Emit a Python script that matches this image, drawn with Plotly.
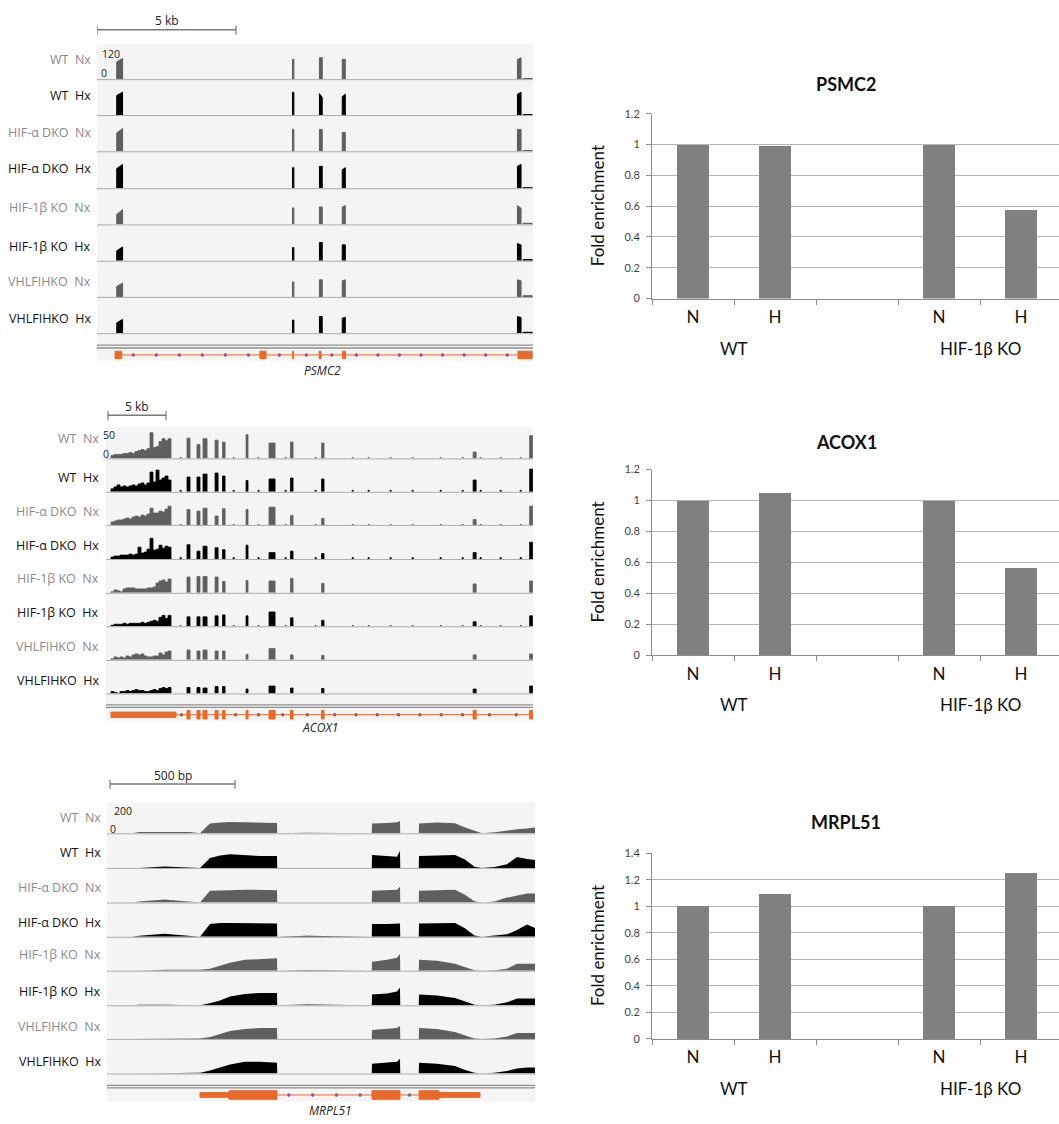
import plotly.graph_objects as go

W, H = 1059, 1124

# ------------------------------------------------------------------ data
TRACK_LABELS = ["WT  Nx", "WT  Hx", "HIF-α DKO  Nx", "HIF-α DKO  Hx",
                "HIF-1β KO  Nx", "HIF-1β KO  Hx", "VHLFIHKO  Nx", "VHLFIHKO  Hx"]

# PSMC2 RNA-seq coverage (positions in kb, heights in reads)
PSMC2_EXON_START = [0.71, 7.03, 8.00, 8.82, 15.12, 15.32]
PSMC2_EXON_END = [0.92, 7.08, 8.10, 8.93, 15.25, 15.65]
PSMC2_COV_LEFT = [
    [75, 86, 93, 86, 85, 3],
    [85, 99, 93, 80, 90, 2],
    [80, 95, 95, 82, 95, 3],
    [85, 89, 95, 80, 95, 2],
    [43, 72, 76, 75, 82, 5],
    [43, 57, 79, 69, 75, 5],
    [45, 65, 74, 70, 74, 5],
    [45, 57, 72, 65, 72, 4],
]
PSMC2_COV_RIGHT = [
    [90, 86, 93, 86, 93, 3],
    [99, 99, 76, 90, 99, 2],
    [99, 95, 95, 82, 95, 3],
    [103, 89, 95, 89, 103, 2],
    [65, 72, 76, 82, 70, 5],
    [60, 57, 79, 69, 68, 5],
    [60, 65, 74, 74, 70, 5],
    [60, 57, 72, 69, 68, 4],
]
PSMC2_GENE_SPAN = [0.65, 15.65]
PSMC2_GENE_EXON_START = [0.65, 5.86, 7.03, 7.99, 8.83, 15.14]
PSMC2_GENE_EXON_END = [0.89, 6.08, 7.07, 8.06, 8.94, 15.65]

# ACOX1 coverage (kb, reads)
ACOX1_UTR_START = 0.43
ACOX1_BIN_KB = 0.2586
ACOX1_UTR_COV = [
    [6, 8, 8, 8, 10, 10, 12, 10, 14, 16, 18, 16, 20, 52, 22, 24, 34, 40, 36, 40],
    [6, 10, 14, 10, 12, 10, 12, 14, 12, 16, 18, 14, 18, 40, 20, 44, 24, 28, 32, 24],
    [6, 8, 10, 10, 12, 14, 12, 16, 18, 16, 20, 18, 22, 34, 24, 24, 28, 26, 32, 38],
    [4, 6, 6, 8, 8, 8, 10, 8, 10, 24, 12, 14, 20, 42, 18, 20, 28, 22, 26, 24],
    [2, 6, 4, 2, 8, 10, 10, 10, 8, 8, 8, 8, 10, 10, 12, 20, 24, 26, 22, 28],
    [2, 4, 4, 4, 6, 4, 6, 6, 6, 6, 8, 6, 8, 10, 12, 10, 18, 22, 16, 22],
    [2, 6, 4, 6, 4, 8, 6, 10, 12, 10, 12, 8, 6, 6, 8, 8, 14, 10, 16, 18],
    [4, 2, 0, 4, 4, 6, 4, 6, 8, 6, 6, 4, 4, 6, 8, 6, 10, 12, 10, 12],
]
ACOX1_EXON_START = [6.98, 7.84, 8.36, 9.40, 10.04, 12.07, 14.05, 15.90, 18.58, 31.64, 36.51]
ACOX1_EXON_END = [7.24, 8.10, 8.71, 9.66, 10.26, 12.24, 14.57, 16.12, 18.79, 31.90, 36.77]
ACOX1_EXON_COV = [
    [41, 28, 40, 37, 33, 48, 31, 33, 31, 13, 46],
    [30, 30, 36, 38, 32, 23, 26, 28, 26, 24, 46],
    [31, 28, 34, 18, 33, 31, 36, 19, 13, 11, 38],
    [29, 16, 26, 23, 19, 28, 13, 16, 11, 13, 34],
    [32, 33, 33, 32, 23, 25, 24, 29, 19, 18, 24],
    [19, 19, 19, 21, 23, 21, 29, 17, 12, 9, 21],
    [20, 18, 20, 18, 18, 11, 23, 10, 9, 10, 12],
    [12, 12, 11, 14, 14, 9, 15, 11, 10, 9, 15],
]
ACOX1_LOW_POS = [6.38, 10.95, 13.10, 15.43, 18.02, 21.21, 22.58, 24.48, 26.38,
                 28.79, 30.69, 32.24, 33.96, 35.69]
ACOX1_LOW_COV = [2, 3, 1, 3, 0, 1, 0, 0]
ACOX1_GENE_SPAN = [0.43, 36.8]
ACOX1_GENE_UTR = [0.43, 6.03]

# MRPL51 coverage (bp, reads)
MRPL51_POS = [100, 130, 230, 330, 372, 412, 452, 492, 552, 612, 680, 681, 750, 800,
              1059, 1060, 1120, 1160, 1172, 1173, 1247, 1248, 1320, 1392, 1430, 1470,
              1500, 1550, 1600, 1640, 1680, 1712]
MRPL51_COV = [
    [0, 10, 10, 10, 0, 80, 88, 92, 90, 88, 84, 0, 5, 5, 0, 80, 84, 90, 100, 0, 0, 80, 88, 82, 50, 20, 0, 8, 24, 32, 40, 48],
    [0, 0, 12, 0, 0, 80, 100, 110, 100, 96, 96, 0, 0, 0, 0, 104, 96, 90, 136, 0, 0, 96, 100, 104, 70, 10, 0, 8, 30, 88, 72, 64],
    [0, 8, 24, 8, 0, 96, 100, 100, 104, 100, 100, 0, 0, 0, 0, 96, 100, 104, 128, 0, 0, 96, 100, 104, 64, 10, 0, 8, 40, 56, 72, 72],
    [0, 8, 24, 8, 0, 104, 112, 112, 112, 112, 108, 0, 8, 8, 0, 104, 104, 104, 108, 0, 0, 108, 112, 112, 72, 10, 0, 8, 20, 56, 100, 72],
    [0, 0, 8, 8, 8, 16, 40, 64, 88, 96, 100, 0, 6, 6, 0, 72, 88, 104, 136, 0, 0, 88, 80, 56, 30, 4, 0, 4, 16, 56, 56, 56],
    [0, 4, 4, 0, 0, 16, 40, 72, 92, 100, 100, 0, 6, 6, 0, 88, 96, 112, 144, 0, 0, 88, 80, 60, 32, 4, 0, 4, 24, 56, 56, 56],
    [0, 0, 4, 4, 4, 16, 40, 64, 80, 88, 88, 0, 0, 0, 0, 72, 80, 88, 104, 0, 0, 88, 80, 56, 30, 4, 0, 4, 20, 48, 48, 48],
    [0, 0, 6, 6, 6, 24, 48, 72, 96, 96, 88, 0, 0, 0, 0, 80, 88, 96, 120, 0, 0, 88, 80, 60, 30, 6, 0, 6, 20, 40, 48, 48],
]
MRPL51_GENE_SPAN = [372, 1492]
MRPL51_GENE_UTR_START = [372, 1328]
MRPL51_GENE_UTR_END = [488, 1492]
MRPL51_GENE_CDS_START = [488, 1060, 1248]
MRPL51_GENE_CDS_END = [680, 1172, 1328]

# qPCR fold enrichment
BAR_CATEGORIES = ["N", "H", "N", "H"]
BAR_SLOTS = [0, 1, 3, 4]
GROUP_LABELS = ["WT", "HIF-1β KO"]
GROUP_SLOTS = [0.5, 3.5]
PSMC2_FOLD = [1.0, 0.99, 1.0, 0.58]
ACOX1_FOLD = [1.0, 1.05, 1.0, 0.57]
MRPL51_FOLD = [1.0, 1.09, 1.0, 1.25]

# ------------------------------------------------------------------ helpers
fig = go.Figure()
layout = {}
shapes = []
annotations = []
counter = {"x": 0, "y": 0}

NX_COLOR = "#5f5f5f"
HX_COLOR = "#000000"
ORANGE = "#e8692c"
BLUE = "#5050cc"
BG = "#f4f4f4"
LABEL_FONT = "Open Sans"
BAR_FONT = "Lato"


def px(x):
    return x / W


def py(y):
    return 1 - y / H


def new_axis(kind, lo, hi, rng, **kw):
    counter[kind] += 1
    n = counter[kind]
    key = f"{kind}axis" if n == 1 else f"{kind}axis{n}"
    ref = kind if n == 1 else f"{kind}{n}"
    if kind == "x":
        dom = [px(lo), px(hi)]
    else:
        dom = [py(lo), py(hi)]
    d = dict(domain=dom, range=rng, visible=False, fixedrange=True)
    d.update(kw)
    layout[key] = d
    return ref, key


def text(x, y, s, size, color="#111", family=LABEL_FONT, xanchor="center", xref="paper", **kw):
    annotations.append(dict(x=x if xref != "paper" else px(x), y=py(y), xref=xref, yref="paper",
                            text=s, showarrow=False, xanchor=xanchor, yanchor="middle",
                            font=dict(size=size, color=color, family=family), **kw))


def strand_dots(boxes, spacing):
    boxes = sorted(boxes)
    dots = []
    prev_end = boxes[0][1]
    for s, e in boxes[1:]:
        gap = s - prev_end
        n = int(gap // spacing)
        if n == 0 and gap > spacing * 0.45:
            n = 1
        for i in range(n):
            dots.append(prev_end + (i + 0.5) * gap / n)
        prev_end = max(prev_end, e)
    return dots


def genome_panel(g):
    xref, xkey = new_axis("x", g["xl"], g["xr"], [0, g["xmax"]])
    # background
    shapes.append(dict(type="rect", xref="paper", yref="paper", x0=px(g["xl"]), x1=px(g["xr"]),
                       y0=py(g["bg"][1]), y1=py(g["bg"][0]), fillcolor=BG, line=dict(width=0),
                       layer="below"))
    # scale bar
    sb0, sb1 = g["scale"]
    sy = g["scale_y"]
    shapes.append(dict(type="line", xref=xref, yref="paper", x0=sb0, x1=sb1, y0=py(sy), y1=py(sy),
                       line=dict(color="#7a7a7a", width=1.5)))
    for xv in (sb0, sb1):
        shapes.append(dict(type="line", xref=xref, yref="paper", x0=xv, x1=xv, y0=py(sy - 4),
                           y1=py(sy + 5), line=dict(color="#7a7a7a", width=1.2)))
    text((sb0 + sb1) / 2, sy - 9, g["scale_text"], 12, "#222", xref=xref)
    # tracks
    for i in range(8):
        base = g["baselines"][i]
        yref, ykey = new_axis("y", base, base - g["track_h"], [0, g["ymax"]], anchor=xref)
        is_hx = TRACK_LABELS[i].endswith("Hx")
        col = HX_COLOR if is_hx else NX_COLOR
        xs, ys = g["profile"](i)
        fig.add_trace(go.Scatter(x=xs, y=ys, mode="lines", fill="tozeroy", fillcolor=col,
                                 line=dict(color=col, width=g["lw"]), connectgaps=False,
                                 xaxis=xref, yaxis=yref, hoverinfo="skip"))
        shapes.append(dict(type="line", xref="paper", yref="paper", x0=px(g["xl"]), x1=px(g["xr"]),
                           y0=py(base + 0.5), y1=py(base + 0.5), line=dict(color="#ababab", width=1)))
        text(g["label_x"], g["label_y"][i], TRACK_LABELS[i].replace("  ", "\u00a0\u00a0"), 12.5,
             "#111" if is_hx else "#8a8a8a", xanchor="right")
    # data range label
    text(g["range_pos"][0], g["range_pos"][1], g["range_text"], 10.5, "#222")
    text(g["zero_pos"][0], g["zero_pos"][1], "0", 10.5, "#222")
    # double separator lines
    for yy in g["sep"]:
        shapes.append(dict(type="line", xref="paper", yref="paper", x0=px(g["xl"]), x1=px(g["xr"]),
                           y0=py(yy), y1=py(yy), line=dict(color="#8f8f8f", width=1.3)))
    # gene model
    gy = g["gene_y"]
    gref, gkey = new_axis("y", gy + 6, gy - 6, [-1, 1], anchor=xref)
    s0, s1 = g["gene_span"]
    shapes.append(dict(type="line", xref=xref, yref=gref, x0=s0, x1=s1, y0=0, y1=0,
                       line=dict(color=ORANGE, width=1)))
    for (a, b, hh) in g["gene_boxes"]:
        shapes.append(dict(type="rect", xref=xref, yref=gref, x0=a, x1=b, y0=-hh, y1=hh,
                           fillcolor=ORANGE, line=dict(color=ORANGE, width=1)))
    dots = strand_dots([(a, b) for a, b, _ in g["gene_boxes"]], g["dot_spacing"])
    fig.add_trace(go.Scatter(x=dots, y=[0] * len(dots), mode="markers",
                             marker=dict(color=BLUE, size=3.5, line=dict(width=0)),
                             xaxis=xref, yaxis=gref, hoverinfo="skip"))
    text(g["name_pos"][0], g["name_pos"][1], "<i>" + g["name"] + "</i>", 12, "#222")


def exon_segments(starts, ends, lefts, rights):
    segs = []
    for s, e, l, r in zip(starts, ends, lefts, rights):
        segs.append(([s, s, e, e], [0, l, r, 0]))
    return segs


def join_segments(segs):
    segs = sorted(segs, key=lambda t: t[0][0])
    xs, ys = [], []
    for sx, sy in segs:
        xs += sx + [None]
        ys += sy + [None]
    return xs, ys


def psmc2_profile(i):
    return join_segments(exon_segments(PSMC2_EXON_START, PSMC2_EXON_END,
                                       PSMC2_COV_LEFT[i], PSMC2_COV_RIGHT[i]))


def acox1_profile(i):
    segs = exon_segments(ACOX1_EXON_START, ACOX1_EXON_END, ACOX1_EXON_COV[i], ACOX1_EXON_COV[i])
    ux, uy = [ACOX1_UTR_START], [0]
    for k, v in enumerate(ACOX1_UTR_COV[i]):
        a = ACOX1_UTR_START + k * ACOX1_BIN_KB
        ux += [a, a + ACOX1_BIN_KB]
        uy += [v, v]
    ux.append(ux[-1])
    uy.append(0)
    segs.append((ux, uy))
    if ACOX1_LOW_COV[i] > 0:
        for p in ACOX1_LOW_POS:
            segs.append(([p, p, p + 0.1, p + 0.1], [0, ACOX1_LOW_COV[i], ACOX1_LOW_COV[i], 0]))
    return join_segments(segs)


def mrpl51_profile(i):
    return MRPL51_POS, MRPL51_COV[i]


psmc2_boxes = [(a, b, 0.62) for a, b in zip(PSMC2_GENE_EXON_START, PSMC2_GENE_EXON_END)]
acox1_boxes = [(ACOX1_GENE_UTR[0], ACOX1_GENE_UTR[1], 0.45)] + \
    [(a, b, 0.72) for a, b in zip(ACOX1_EXON_START, ACOX1_EXON_END)]
mrpl51_boxes = [(a, b, 0.4) for a, b in zip(MRPL51_GENE_UTR_START, MRPL51_GENE_UTR_END)] + \
    [(a, b, 0.72) for a, b in zip(MRPL51_GENE_CDS_START, MRPL51_GENE_CDS_END)]

genome_panel(dict(
    name="PSMC2", xl=97, xr=533, xmax=15.68, bg=(38, 358), scale=(0, 5), scale_y=23,
    scale_text="5 kb", baselines=[73, 109.3, 146, 183.3, 220, 256.7, 293.3, 330], track_h=34,
    ymax=146, profile=psmc2_profile, lw=1, label_x=93,
    label_y=[53, 90, 127, 163, 203, 242, 278, 315], range_text="120", range_pos=(111, 48),
    zero_pos=(104, 67), sep=[342, 345], gene_y=352, gene_span=PSMC2_GENE_SPAN,
    gene_boxes=psmc2_boxes, dot_spacing=0.75, name_pos=(322, 368)))

genome_panel(dict(
    name="ACOX1", xl=106, xr=533, xmax=36.8, bg=(425, 722), scale=(0.17, 5.17), scale_y=413,
    scale_text="5 kb", baselines=[456.7, 490.5, 524, 558.5, 592.7, 626.5, 660.5, 694.5],
    track_h=32, ymax=64, profile=acox1_profile, lw=0.8, label_x=101,
    label_y=[437, 476, 510, 545, 578, 613, 647, 681], range_text="50", range_pos=(109, 433),
    zero_pos=(106, 452), sep=[706, 708.5], gene_y=716, gene_span=ACOX1_GENE_SPAN,
    gene_boxes=acox1_boxes, dot_spacing=1.7, name_pos=(320, 729)))

genome_panel(dict(
    name="MRPL51", xl=107, xr=535, xmax=1712, bg=(805, 1107), scale=(12, 512), scale_y=786,
    scale_text="500 bp", baselines=[836, 871, 906, 940.7, 975, 1010, 1044, 1079], track_h=33,
    ymax=264, profile=mrpl51_profile, lw=0, label_x=103,
    label_y=[820, 855, 891, 926, 959, 996, 1031, 1067], range_text="200", range_pos=(123, 813),
    zero_pos=(113, 832), sep=[1091, 1093.5], gene_y=1100.7, gene_span=MRPL51_GENE_SPAN,
    gene_boxes=mrpl51_boxes, dot_spacing=84, name_pos=(330, 1116)))


# ------------------------------------------------------------------ bar charts
def bar_chart(title, values, ymax_tick, y0_px, ytop_px, title_y, group_y):
    xref, xkey = new_axis("x", 652, 1059, [-0.5, -0.5 + (1059 - 652) / 82.0])
    yref, ykey = new_axis("y", y0_px, ytop_px, [0, ymax_tick + 1e-4], anchor=xref)
    layout[xkey].update(dict(
        visible=True, anchor=yref, tickmode="array", tickvals=BAR_SLOTS, ticktext=BAR_CATEGORIES,
        ticks="", showline=True, linecolor="#8c8c8c", linewidth=1, showgrid=False, zeroline=False,
        tickfont=dict(family=BAR_FONT, size=17, color="#111"), ticklabelstandoff=3,
        minor=dict(ticks="outside", tick0=-0.5, dtick=1, ticklen=5, tickcolor="#8c8c8c",
                   showgrid=False)))
    layout[ykey].update(dict(
        visible=True, tickmode="linear", tick0=0, dtick=0.2, showgrid=True, gridcolor="#b5b5b5",
        gridwidth=1, showline=True, linecolor="#8c8c8c", linewidth=1, ticks="outside", ticklen=5,
        tickcolor="#8c8c8c", zeroline=False, tickfont=dict(family=BAR_FONT, size=11, color="#444"),
        ticklabelstandoff=4))
    fig.add_trace(go.Bar(x=BAR_SLOTS, y=values, width=0.39, marker=dict(color="#808080", line=dict(width=0)),
                         xaxis=xref, yaxis=yref, hoverinfo="skip"))
    text(846, title_y, "<b>" + title + "</b>", 18, "#111", family=BAR_FONT)
    text(597, (y0_px + ytop_px) / 2, "Fold enrichment", 17, "#111", family=BAR_FONT, textangle=-90)
    for gx, gl in zip(GROUP_SLOTS, GROUP_LABELS):
        text(gx, group_y, gl, 17, "#111", family=BAR_FONT, xref=xref)


bar_chart("PSMC2", PSMC2_FOLD, 1.2, 295, 108, 78, 345)
bar_chart("ACOX1", ACOX1_FOLD, 1.2, 656, 468, 440, 706)
bar_chart("MRPL51", MRPL51_FOLD, 1.4, 1044, 856, 825, 1094)

layout.update(dict(width=W, height=H, margin=dict(l=0, r=0, t=0, b=0), paper_bgcolor="white",
                   plot_bgcolor="rgba(0,0,0,0)", showlegend=False, shapes=shapes,
                   annotations=annotations, bargap=0))
fig.update_layout(**layout)
fig.write_html("out.html", config={"displayModeBar": False, "responsive": False},
               post_script="document.body.style.margin='0';document.body.style.padding='0';"
                           "document.body.style.overflow='hidden';")
